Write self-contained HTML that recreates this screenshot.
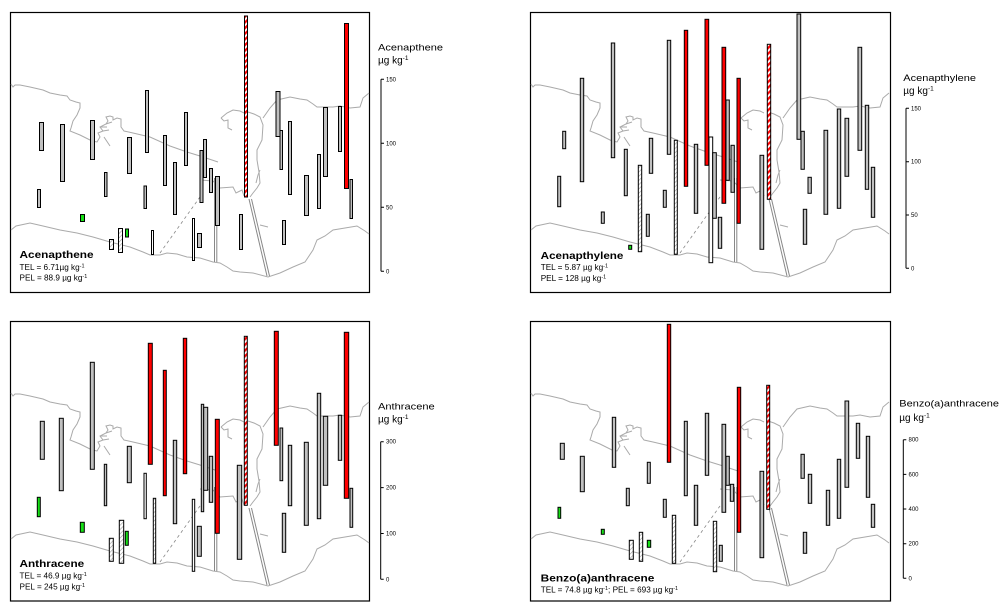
<!DOCTYPE html>
<html><head><meta charset="utf-8"><style>
html,body{margin:0;padding:0;background:#fff;}
svg{display:block;}
text{font-family:"Liberation Sans",Arial,sans-serif;fill:#000;}
.t{font-size:9.5px;}
.u{font-size:10px;}
.b{font-size:10.5px;font-weight:bold;}
.s{font-size:8.2px;}
.k{font-size:6px;}
.g{fill:#c0c0c0;stroke:#000;stroke-width:1;}
.r{fill:#ff0000;stroke:#000;stroke-width:1;}
.w{fill:#fff;stroke:#000;stroke-width:1;}
.h{fill:url(#hatch);stroke:#000;stroke-width:1;}
.rs{fill:url(#rstripe);stroke:#000;stroke-width:1;}
.gr{fill:#16e016;stroke:#000;stroke-width:1;}
.coast{fill:none;stroke:#aaaaaa;stroke-width:1;}
.ax{stroke:#000;stroke-width:1;fill:none;}
</style></head><body>
<svg width="1005" height="615" viewBox="0 0 1005 615" xmlns="http://www.w3.org/2000/svg">
<defs>
<pattern id="hatch" patternUnits="userSpaceOnUse" width="3" height="3" patternTransform="rotate(45)">
<rect width="3" height="3" fill="#fff"/><line x1="0" y1="0" x2="0" y2="3" stroke="#999" stroke-width="1.2"/>
</pattern>
<pattern id="rstripe" patternUnits="userSpaceOnUse" width="4" height="4" patternTransform="rotate(45)">
<rect width="4" height="4" fill="#fff"/><rect x="0" y="0" width="2.2" height="4" fill="#ff0000"/>
</pattern>
<g id="map">
<path class="coast" d="M11,84 L13,87 L15,85 L20,85 L30,87 L43,90 L50,93 L60,95 L67,96 L70,100 L76,102 L80,103 L80,108 L77,115 L73,121 L71,128 L70,131 L80,135 L92,141 L97,142 L100,137 L98,133 L103,131 L100,127 L106,124 L108,121 L106,117 L110,116 L113,117 L113,120 L117,118 L121,119 L121,127 L124,131 L133,133 L150,137 L170,146 L187,152 L200,156 L212,160 L218,162"/>
<path class="coast" d="M103,131 L109,130 M100,127 L107,127 M106,124 L112,122 M104,137 L110,146"/>
<path class="coast" d="M221,118 L227,113 L233,110 L240,111 L244,113 M248,112 L254,114 L260,117 L263,125 L262,140 L257,150 L257,160 L259,172 L260,183 L257,188 L253,193 L250,197"/>
<path class="coast" d="M221,118 L224,121 L228,120 L228,128 L232,130 M200,180 L213,181 L220,188 L233,187 L236,193 L242,190 L244,196 M256,183 L258,175 L260,170 M260,225 L268,227"/>
<path class="coast" d="M263,118 L270,108 L277,100 L290,97 L300,99 L307,100 L313,104 L317,107 L333,107 L340,106 L350,108 L360,107 L363,98 L369,93"/>
<path class="coast" d="M11,230 L16,226 L30,223 L43,226 L60,230 L77,233 L93,237 L110,242 L130,247 L143,252 L150,255 L160,255 L167,253 L177,254 L187,257 L200,258 L213,262 L220,263 L227,267 L233,271 L240,272 L253,273 L268,277 L280,273 L293,267 L305,262 L313,250 L317,240 L325,236 L333,230 L345,228 L357,226 L365,231 L369,234"/>
<path d="M160,253 L200,197" stroke="#888" stroke-width="0.8" stroke-dasharray="3,3" fill="none"/>
<path d="M214.5,178 L214.5,262 M216.8,178 L216.8,262" stroke="#888" stroke-width="1" fill="none"/>
<path d="M249,199 L267,276 M251.5,199 L269.5,276" stroke="#888" stroke-width="1" fill="none"/>
</g>
</defs>
<rect width="1005" height="615" fill="#fff"/>

<rect x="10.5" y="12.5" width="359" height="280" fill="none" stroke="#000" stroke-width="1.2"/>
<rect x="530.5" y="12.5" width="360" height="280" fill="none" stroke="#000" stroke-width="1.2"/>
<rect x="10.5" y="321.5" width="359" height="279.5" fill="none" stroke="#000" stroke-width="1.2"/>
<rect x="530.5" y="321.5" width="360" height="279.5" fill="none" stroke="#000" stroke-width="1.2"/>

<use href="#map"/>
<use href="#map" transform="translate(520,0)"/>
<use href="#map" transform="translate(0,309)"/>
<use href="#map" transform="translate(520,309)"/>

<g>
<rect class="g" x="39.5" y="122.5" width="4" height="28"/>
<rect class="g" x="60.5" y="124.5" width="4" height="57"/>
<rect class="g" x="90.5" y="120.5" width="4" height="39"/>
<rect class="g" x="104.5" y="172.5" width="2.5" height="24"/>
<rect class="g" x="37.5" y="189.5" width="3" height="18"/>
<rect class="gr" x="80.5" y="214.5" width="4" height="7"/>
<rect class="g" x="127.5" y="137.5" width="4" height="36"/>
<rect class="g" x="144" y="186" width="2.5" height="22.5"/>
<rect class="g" x="145.5" y="90.5" width="3" height="62"/>
<rect class="g" x="163.5" y="135.5" width="3" height="50"/>
<rect class="g" x="173.5" y="162.5" width="3" height="52"/>
<rect class="g" x="184.5" y="112.5" width="3" height="53"/>
<rect class="g" x="200" y="150.5" width="3" height="52"/>
<rect class="g" x="203.5" y="139.5" width="3" height="38"/>
<rect class="g" x="209.5" y="168.5" width="3" height="24"/>
<rect class="g" x="215.5" y="176.5" width="4" height="49"/>
<rect class="rs" x="244.5" y="16" width="3" height="181"/>
<rect class="g" x="276" y="91.5" width="4" height="45"/>
<rect class="g" x="280" y="130.5" width="2.5" height="39"/>
<rect class="g" x="288.5" y="121.5" width="3" height="73"/>
<rect class="g" x="304.5" y="175.5" width="4" height="40"/>
<rect class="g" x="317.5" y="154.5" width="3" height="54"/>
<rect class="g" x="323.5" y="107.5" width="4" height="69"/>
<rect class="g" x="338.5" y="106.5" width="3" height="45"/>
<rect class="r" x="344.5" y="23.5" width="4" height="165"/>
<rect class="g" x="350" y="179.5" width="2.5" height="39"/>
<rect class="g" x="239.5" y="214.5" width="3" height="35"/>
<rect class="g" x="282.5" y="220.5" width="3" height="24"/>
<rect class="g" x="197.5" y="233.5" width="4" height="14"/>
<rect class="w" x="192.5" y="218.5" width="2" height="42"/>
<rect class="w" x="151.5" y="230.5" width="2" height="24"/>
<rect class="h" x="118.5" y="228.5" width="4" height="24"/>
<rect class="gr" x="125.5" y="229" width="3" height="8"/>
<rect class="h" x="109.5" y="239.5" width="4" height="10"/>
</g>

<g>
<rect class="g" x="562.7" y="131.3" width="3" height="17.4"/>
<rect class="g" x="557.7" y="176.3" width="3" height="30.4"/>
<rect class="g" x="580.3" y="78.3" width="3.4" height="103.4"/>
<rect class="g" x="601.3" y="212" width="3" height="11.3"/>
<rect class="g" x="611.3" y="43" width="3.4" height="114.7"/>
<rect class="g" x="624.3" y="149.3" width="3" height="46.4"/>
<rect class="h" x="638.3" y="165.3" width="3.4" height="86.4"/>
<rect class="gr" x="628.7" y="245.3" width="3" height="4"/>
<rect class="g" x="646.3" y="214.3" width="3" height="22"/>
<rect class="g" x="649.3" y="138.3" width="3.4" height="35"/>
<rect class="g" x="663.3" y="190.3" width="3" height="17"/>
<rect class="g" x="667.3" y="40.3" width="3.4" height="114"/>
<rect class="h" x="674.3" y="140.3" width="3" height="114"/>
<rect class="r" x="684.3" y="30.3" width="3.4" height="156"/>
<rect class="g" x="694.3" y="144.3" width="3.4" height="69"/>
<rect class="r" x="705" y="19.3" width="3.7" height="146"/>
<rect class="w" x="709" y="137" width="3.7" height="125.7"/>
<rect class="g" x="712.7" y="152.7" width="3.6" height="65.6"/>
<rect class="g" x="718.3" y="217.3" width="3.4" height="31"/>
<rect class="r" x="722" y="47.3" width="3.7" height="156"/>
<rect class="g" x="726" y="100" width="3.3" height="80.3"/>
<rect class="g" x="731" y="145.3" width="3.3" height="47"/>
<rect class="r" x="737" y="78.3" width="3.3" height="145"/>
<rect class="g" x="760" y="155.3" width="3.7" height="94"/>
<rect class="rs" x="767.3" y="44.3" width="3.4" height="155"/>
<rect class="g" x="797" y="14" width="3.7" height="125.3"/>
<rect class="g" x="801" y="131.3" width="3.3" height="38"/>
<rect class="g" x="808" y="177.3" width="3.3" height="16"/>
<rect class="g" x="803.3" y="209.3" width="3.4" height="35"/>
<rect class="g" x="824" y="130.3" width="3.7" height="84"/>
<rect class="g" x="837.3" y="109" width="3.4" height="99.3"/>
<rect class="g" x="845" y="118.3" width="3.7" height="58"/>
<rect class="g" x="858" y="47.3" width="3.7" height="103"/>
<rect class="g" x="865.3" y="105.3" width="3.4" height="84"/>
<rect class="g" x="871.3" y="167.3" width="3.4" height="50"/>
</g>

<g>
<rect class="g" x="40.3" y="421.3" width="4" height="38"/>
<rect class="g" x="59.3" y="418.3" width="4" height="72.4"/>
<rect class="g" x="90.3" y="362.3" width="4" height="107"/>
<rect class="g" x="104.3" y="464.3" width="2.4" height="41.4"/>
<rect class="gr" x="37.3" y="497.3" width="3" height="19.4"/>
<rect class="gr" x="80.3" y="522.3" width="4" height="10"/>
<rect class="g" x="127.3" y="446.3" width="4" height="36.4"/>
<rect class="w" x="144" y="473.3" width="2.3" height="45.4"/>
<rect class="r" x="148.3" y="343.3" width="4" height="121"/>
<rect class="r" x="163.3" y="370.3" width="3" height="125.4"/>
<rect class="g" x="173.3" y="440.3" width="3.4" height="83.4"/>
<rect class="r" x="183.3" y="338.3" width="3.4" height="135.4"/>
<rect class="g" x="201.3" y="404.3" width="2.4" height="107.4"/>
<rect class="g" x="203.7" y="407.3" width="4" height="83"/>
<rect class="g" x="209.3" y="456.3" width="3.4" height="46"/>
<rect class="r" x="215.3" y="419.3" width="4" height="114"/>
<rect class="g" x="237.3" y="465.3" width="4.4" height="94"/>
<rect class="rs" x="244.3" y="336.3" width="3" height="169"/>
<rect class="r" x="274.3" y="331.3" width="4" height="114"/>
<rect class="g" x="280" y="428" width="2.7" height="52.7"/>
<rect class="g" x="288.3" y="445.3" width="3.4" height="60.4"/>
<rect class="g" x="304.3" y="442.3" width="4" height="83"/>
<rect class="g" x="317.3" y="393.3" width="3.4" height="125.4"/>
<rect class="g" x="323.3" y="416.3" width="4.4" height="69"/>
<rect class="g" x="338.3" y="415.3" width="3.4" height="45"/>
<rect class="r" x="344.3" y="332.3" width="4.4" height="166"/>
<rect class="g" x="350" y="488.3" width="2.7" height="39"/>
<rect class="g" x="282.3" y="513.3" width="3.4" height="39"/>
<rect class="g" x="197.3" y="526.3" width="4" height="30"/>
<rect class="w" x="192.3" y="499.3" width="2.4" height="72"/>
<rect class="h" x="153.3" y="498.3" width="2.4" height="65"/>
<rect class="h" x="119.3" y="520.3" width="4.4" height="43"/>
<rect class="gr" x="125.3" y="531.3" width="3" height="14"/>
<rect class="h" x="109.3" y="538.3" width="4" height="23"/>
</g>

<g>
<rect class="g" x="560.3" y="443.3" width="4" height="16"/>
<rect class="g" x="580.3" y="456.3" width="4" height="35.4"/>
<rect class="g" x="612.3" y="417.3" width="3.4" height="50"/>
<rect class="g" x="626.3" y="488.3" width="3" height="17.4"/>
<rect class="gr" x="558" y="507.3" width="2.7" height="11"/>
<rect class="gr" x="601.3" y="529.3" width="3" height="5"/>
<rect class="g" x="647.3" y="462.3" width="3" height="21"/>
<rect class="r" x="667.3" y="324.3" width="3.4" height="138"/>
<rect class="g" x="663.3" y="499.3" width="3" height="18"/>
<rect class="g" x="684.3" y="421.3" width="3" height="74.4"/>
<rect class="g" x="694.3" y="485.3" width="3.4" height="40"/>
<rect class="g" x="705.3" y="413.3" width="3.4" height="62"/>
<rect class="g" x="722" y="424.3" width="3.7" height="88"/>
<rect class="g" x="726" y="456.3" width="3.3" height="29"/>
<rect class="g" x="730.3" y="484.3" width="3.4" height="17"/>
<rect class="r" x="737.3" y="387.3" width="3.4" height="145"/>
<rect class="g" x="760" y="471.3" width="3.7" height="86.4"/>
<rect class="rs" x="766.7" y="385.3" width="3" height="124"/>
<rect class="g" x="801" y="454.3" width="3.3" height="24"/>
<rect class="g" x="808.3" y="474.3" width="3.4" height="29"/>
<rect class="g" x="803.3" y="532.3" width="3.4" height="21"/>
<rect class="g" x="826.3" y="490.3" width="3.4" height="35"/>
<rect class="g" x="837.3" y="459.3" width="3.4" height="59"/>
<rect class="g" x="845" y="401" width="3.7" height="86.3"/>
<rect class="g" x="856.3" y="423.3" width="3.4" height="35"/>
<rect class="g" x="866.3" y="436.3" width="3.4" height="61"/>
<rect class="g" x="871.3" y="504.3" width="3.4" height="23"/>
<rect class="g" x="719.3" y="545.3" width="3" height="16"/>
<rect class="h" x="713.3" y="521.3" width="3.4" height="50.4"/>
<rect class="h" x="672.3" y="515.3" width="3.4" height="48"/>
<rect class="gr" x="647.3" y="540.3" width="3.4" height="7"/>
<rect class="h" x="639.3" y="532.3" width="3.4" height="29"/>
<rect class="h" x="629.3" y="540.3" width="4" height="19"/>
</g>

<g>
<path class="ax" d="M381,79.3 L381,271.3 M381,79.3 L384,79.3 M381,143.3 L384,143.3 M381,207.3 L384,207.3 M381,271.3 L384,271.3"/>
<text class="k" x="386" y="81.3">150</text>
<text class="k" x="386" y="145.3">100</text>
<text class="k" x="386" y="209.3">50</text>
<text class="k" x="386" y="273.3">0</text>
<text class="t" x="378" y="50.5" textLength="65" lengthAdjust="spacingAndGlyphs">Acenapthene</text>
<text class="u" x="378" y="63.5">µg kg<tspan font-size="6.5" dy="-3.5">-1</tspan></text>

<path class="ax" d="M906,108.3 L906,268.3 M906,108.3 L909,108.3 M906,161.7 L909,161.7 M906,215 L909,215 M906,268.3 L909,268.3"/>
<text class="k" x="911" y="110.3">150</text>
<text class="k" x="911" y="163.7">100</text>
<text class="k" x="911" y="217">50</text>
<text class="k" x="911" y="270.3">0</text>
<text class="t" x="903.3" y="81" textLength="72.7" lengthAdjust="spacingAndGlyphs">Acenapthylene</text>
<text class="u" x="903.3" y="94">µg kg<tspan font-size="6.5" dy="-3.5">-1</tspan></text>

<path class="ax" d="M380.7,441.7 L380.7,579.3 M380.7,441.7 L383.7,441.7 M380.7,487.6 L383.7,487.6 M380.7,533.5 L383.7,533.5 M380.7,579.3 L383.7,579.3"/>
<text class="k" x="386" y="443.7">300</text>
<text class="k" x="386" y="489.6">200</text>
<text class="k" x="386" y="535.5">100</text>
<text class="k" x="386" y="581.3">0</text>
<text class="t" x="378" y="409.3" textLength="56.7" lengthAdjust="spacingAndGlyphs">Anthracene</text>
<text class="u" x="378" y="422.5">µg kg<tspan font-size="6.5" dy="-3.5">-1</tspan></text>

<path class="ax" d="M903.3,439.7 L903.3,578.3 M903.3,439.7 L906.3,439.7 M903.3,474.4 L906.3,474.4 M903.3,509 L906.3,509 M903.3,543.7 L906.3,543.7 M903.3,578.3 L906.3,578.3"/>
<text class="k" x="908.5" y="441.7">800</text>
<text class="k" x="908.5" y="476.4">600</text>
<text class="k" x="908.5" y="511">400</text>
<text class="k" x="908.5" y="545.7">200</text>
<text class="k" x="908.5" y="580.3">0</text>
<text class="t" x="899.3" y="406.7" textLength="99.7" lengthAdjust="spacingAndGlyphs">Benzo(a)anthracene</text>
<text class="u" x="899.3" y="421">µg kg<tspan font-size="6.5" dy="-3.5">-1</tspan></text>
</g>

<g>
<text class="b" x="19.5" y="258" textLength="74" lengthAdjust="spacingAndGlyphs">Acenapthene</text>
<text class="s" x="19.5" y="270">TEL = 6.71µg kg<tspan font-size="5.5" dy="-2.5">-1</tspan></text>
<text class="s" x="19.5" y="280.5">PEL = 88.9 µg kg<tspan font-size="5.5" dy="-2.5">-1</tspan></text>

<text class="b" x="540.7" y="259" textLength="82.7" lengthAdjust="spacingAndGlyphs">Acenapthylene</text>
<text class="s" x="540.7" y="270">TEL = 5.87 µg kg<tspan font-size="5.5" dy="-2.5">-1</tspan></text>
<text class="s" x="540.7" y="281">PEL = 128 µg kg<tspan font-size="5.5" dy="-2.5">-1</tspan></text>

<text class="b" x="19.5" y="567" textLength="64.7" lengthAdjust="spacingAndGlyphs">Anthracene</text>
<text class="s" x="19.5" y="578.7">TEL = 46.9 µg kg<tspan font-size="5.5" dy="-2.5">-1</tspan></text>
<text class="s" x="19.5" y="589.5">PEL = 245 µg kg<tspan font-size="5.5" dy="-2.5">-1</tspan></text>

<text class="b" x="540.7" y="581.5" textLength="113.7" lengthAdjust="spacingAndGlyphs">Benzo(a)anthracene</text>
<text class="s" x="540.7" y="592.3">TEL = 74.8 µg kg<tspan font-size="5.5" dy="-2.5">-1</tspan><tspan dy="2.5">; PEL = 693 µg kg</tspan><tspan font-size="5.5" dy="-2.5">-1</tspan></text>
</g>
</svg>
</body></html>
